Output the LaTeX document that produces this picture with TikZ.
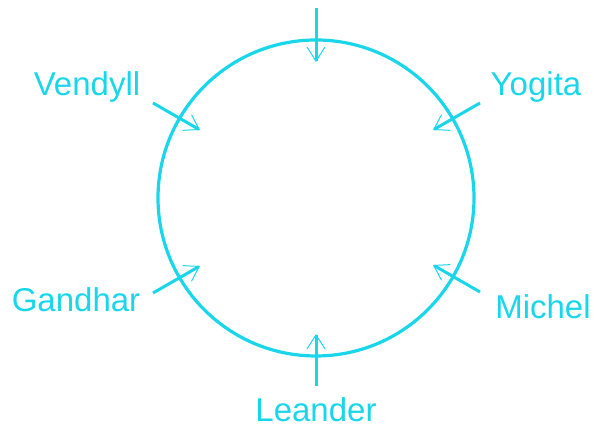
\documentclass[tikz,border=0pt]{standalone}
\usepackage{fontspec}
\setmainfont{Liberation Sans}
\usepackage{xcolor}
\usetikzlibrary{arrows.meta}
\definecolor{seatcyan}{HTML}{1AD6EB}
\tikzset{
  ring/.style={draw=seatcyan,line width=1.6pt},
  pointer/.style={draw=seatcyan,line width=1.5pt,
                  -{Straight Barb[length=7pt,width=9pt,line width=0.5pt]}},
  seatname/.style={font=\fontsize{16.5}{19}\selectfont,text=seatcyan,inner sep=0pt}
}
\begin{document}
\begin{tikzpicture}[x=0.5pt,y=0.5pt]
    \path[use as bounding box] (0,0) rectangle (594,431);

    \coordinate (c) at (316,233);
    \draw[ring] (c) circle[radius=158];

    \foreach \nm/\sx/\sy/\tx/\ty in {top/316/423/316/369,
        ven/153/328/200/301,yog/480/328/433/301,
        gan/153/138/200/165,mic/480/139/433/166,
        lea/316/45/316/97}{
      \coordinate (\nm-s) at (\sx,\sy);
      \coordinate (\nm-t) at (\tx,\ty);
      \draw[pointer] (\nm-s) -- (\nm-t);
    }

    \node[seatname] (vendyll) at (87,344) {Vendyll};
    \node[seatname] (yogita) at (536,344) {Yogita};
    \node[seatname] (gandhar) at (76,131) {Gandhar};
    \node[seatname] (michel) at (543,124) {Michel};
    \node[seatname] (leander) at (316,21) {Leander};
  \end{tikzpicture}
\end{document}
